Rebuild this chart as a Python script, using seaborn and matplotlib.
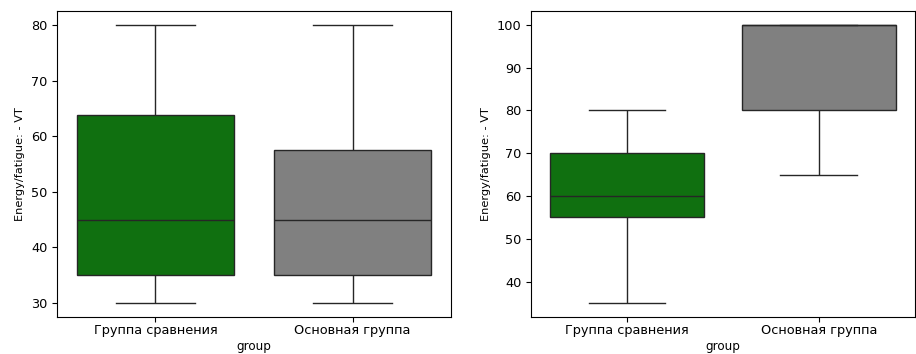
import matplotlib
matplotlib.use("Agg")
import matplotlib.pyplot as plt
import seaborn as sns
import pandas as pd

groups = ["Группа сравнения", "Основная группа"]
palette = ["green", "gray"]

# left panel raw values
left_comparison = [30, 35, 35, 45, 45, 60, 75, 80]
left_main = [30, 35, 35, 40, 50, 55, 65, 80]
# right panel raw values
right_comparison = [35, 50, 55, 55, 60, 65, 70, 75, 80]
right_main = [65, 75, 80, 80, 100, 100, 100, 100, 100]

ylabel = "Energy/fatigue: - VT"
xlabel = "group"

df_left = pd.DataFrame({
    "group": [groups[0]] * len(left_comparison) + [groups[1]] * len(left_main),
    "value": left_comparison + left_main,
})
df_right = pd.DataFrame({
    "group": [groups[0]] * len(right_comparison) + [groups[1]] * len(right_main),
    "value": right_comparison + right_main,
})

fig = plt.figure(figsize=(9.16, 3.54), dpi=100)
ax1 = fig.add_axes([0.0622, 0.1045, 0.4302, 0.8645])
ax2 = fig.add_axes([0.5797, 0.1045, 0.4190, 0.8645])

for ax, df in [(ax1, df_left), (ax2, df_right)]:
    sns.boxplot(data=df, x="group", y="value", hue="group", palette=palette,
                order=groups, hue_order=groups, legend=False, ax=ax)
    ax.set_ylabel(ylabel, fontsize=8.2)
    ax.set_xlabel(xlabel, fontsize=8.6, labelpad=2.5)
    ax.tick_params(labelsize=9.3)
    ax.tick_params(axis="x", pad=1.5)

fig.savefig("out.png", dpi=100)
